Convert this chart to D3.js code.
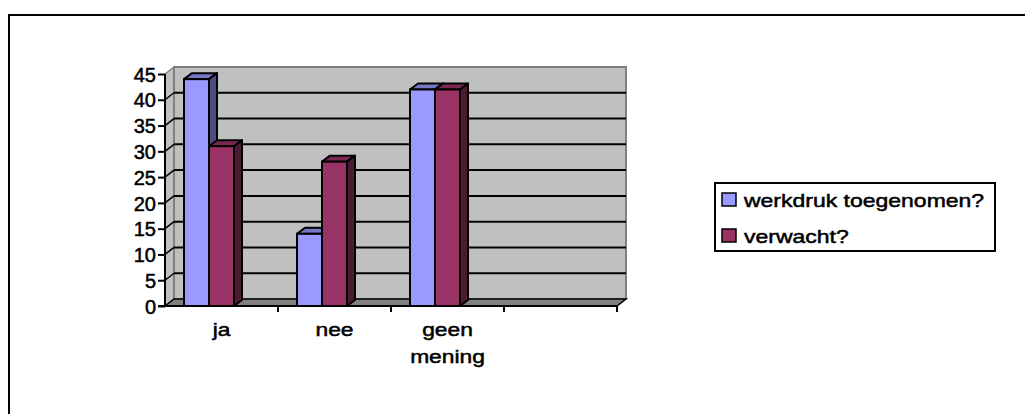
<!DOCTYPE html>
<html><head><meta charset="utf-8">
<script src="https://cdn.jsdelivr.net/npm/d3@7"></script>
<style>
html,body{margin:0;padding:0;background:#fff;}
svg{display:block;font-family:"Liberation Sans",Arial,sans-serif;}
</style></head>
<body>
<script>
const categories = ["ja", "nee", "geen mening", ""];
const seriesNames = ["werkdruk toegenomen?", "verwacht?"];
const werkdruk = [44, 14, 42];
const verwacht = [31, 28, 42];
const yTicks = [0, 5, 10, 15, 20, 25, 30, 35, 40, 45];

const W = 1025, H = 414;
const svg = d3.select("body").append("svg").attr("width", W).attr("height", H);

// outer frame
svg.append("path").attr("d", "M9,414 L9,15 L1025,15").attr("fill", "none").attr("stroke", "#000").attr("stroke-width", 2);

const x = d3.scaleBand().domain(categories.map((c, i) => i)).range([165, 617]).padding(0);
const y = d3.scaleLinear().domain([0, 45]).range([306, 74]);
const wdx = 9, wdy = -7;   // wall depth
const bdx = 8, bdy = -6;   // bar depth

const x0 = x.range()[0], x1 = x.range()[1];
const yb = y(0), yt = y(45);

// side wall
svg.append("path")
  .attr("d", `M${x0},${yb} L${x0},${yt} L${x0+wdx},${yt+wdy} L${x0+wdx},${yb+wdy} Z`)
  .attr("fill", "#c0c0c0").attr("stroke", "#808080").attr("stroke-width", 1.5);
// back wall
svg.append("rect").attr("x", x0 + wdx).attr("y", yt + wdy).attr("width", x1 - x0).attr("height", yb - yt)
  .attr("fill", "#c0c0c0").attr("stroke", "#808080").attr("stroke-width", 2);
// floor
svg.append("path")
  .attr("d", `M${x0},${yb} L${x0+wdx},${yb+wdy} L${x1+wdx},${yb+wdy} L${x1},${yb} Z`)
  .attr("fill", "#808080").attr("stroke", "#000").attr("stroke-width", 1.5);

// gridlines
yTicks.filter(v => v > 0 && v < 45).forEach(v => {
  svg.append("line").attr("x1", x0 + wdx).attr("x2", x1 + wdx).attr("y1", y(v) + wdy).attr("y2", y(v) + wdy)
    .attr("stroke", "#000").attr("stroke-width", 2);
  svg.append("line").attr("x1", x0).attr("x2", x0 + wdx).attr("y1", y(v)).attr("y2", y(v) + wdy)
    .attr("stroke", "#000").attr("stroke-width", 1.5);
});

// bars
const colors = [
  {front: "#9999ff", top: "#7676c8", side: "#4d4d80"},
  {front: "#993366", top: "#7a2852", side: "#4d1a33"}
];
const barW = 25, offset = 19;
const series = [werkdruk, verwacht];
const gBars = svg.append("g");
categories.forEach((c, ci) => {
  series.forEach((s, si) => {
    if (ci >= s.length) return;
    const v = s[ci];
    const bx = x(ci) + offset + si * barW, by = y(v), bb = y(0);
    const col = colors[si];
    gBars.append("path")
      .attr("d", `M${bx},${by} L${bx+bdx},${by+bdy} L${bx+barW+bdx},${by+bdy} L${bx+barW},${by} Z`)
      .attr("fill", col.top).attr("stroke", "#000").attr("stroke-width", 2).attr("stroke-linejoin", "round");
    gBars.append("path")
      .attr("d", `M${bx+barW},${by} L${bx+barW+bdx},${by+bdy} L${bx+barW+bdx},${bb+bdy} L${bx+barW},${bb} Z`)
      .attr("fill", col.side).attr("stroke", "#000").attr("stroke-width", 2).attr("stroke-linejoin", "round");
    gBars.append("rect").attr("x", bx).attr("y", by).attr("width", barW).attr("height", bb - by)
      .attr("fill", col.front).attr("stroke", "#000").attr("stroke-width", 2);
  });
});

// y axis
const yAxis = svg.append("g").attr("transform", `translate(${x0},0)`)
  .call(d3.axisLeft(y).tickValues(yTicks).tickSize(7).tickPadding(2).tickFormat(d3.format("d")));
yAxis.select(".domain").attr("stroke", "#000").attr("stroke-width", 2).attr("d", `M0,${yb+1}V${yt}`);
yAxis.selectAll(".tick line").attr("stroke", "#000").attr("stroke-width", 2);
yAxis.selectAll(".tick text").attr("fill", "#000").attr("font-size", 20)
  .attr("stroke", "#000").attr("stroke-width", 0.5)
  .attr("font-family", "'Liberation Sans',Arial,sans-serif").attr("dy", "0.36em");

// x axis
const xAxis = svg.append("g").attr("transform", `translate(0,${yb})`);
xAxis.append("line").attr("x1", x0 - 7).attr("x2", x1).attr("y1", 0).attr("y2", 0).attr("stroke", "#000").attr("stroke-width", 2);
categories.forEach((c, i) => {
  const xe = x(i) + x.bandwidth();
  xAxis.append("line").attr("x1", xe).attr("x2", xe).attr("y1", 0).attr("y2", 6).attr("stroke", "#000").attr("stroke-width", 2);
});
function stretchedText(g, cx, cy, str, anchor, sx) {
  return g.append("text").attr("transform", `translate(${cx},${cy}) scale(${sx},1)`)
    .attr("text-anchor", anchor).attr("font-size", 19).attr("fill", "#000")
    .attr("stroke", "#000").attr("stroke-width", 0.5).text(str);
}
categories.forEach((c, i) => {
  const cx = x(i) + x.bandwidth() / 2;
  const words = c.split(" ");
  words.forEach((w, wi) => stretchedText(svg, cx, 336 + wi * 27, w, "middle", 1.2));
});

// legend
const leg = svg.append("g");
leg.append("rect").attr("x", 715).attr("y", 183).attr("width", 280).attr("height", 68)
  .attr("fill", "#fff").attr("stroke", "#000").attr("stroke-width", 2);
seriesNames.forEach((n, i) => {
  const ry = 193 + i * 36;
  leg.append("rect").attr("x", 722).attr("y", ry).attr("width", 14).attr("height", 13)
    .attr("fill", colors[i].front).attr("stroke", "#000").attr("stroke-width", 1.5);
  stretchedText(leg, 744, ry + 14, n, "start", 1.21);
});
</script>
</body></html>
